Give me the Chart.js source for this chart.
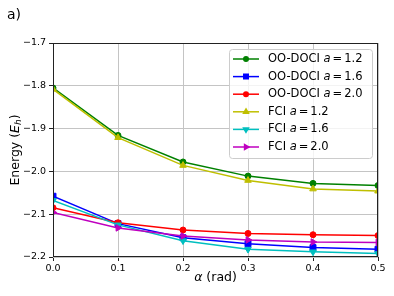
<!DOCTYPE html>
<html>
<head>
  <meta charset="UTF-8">
  <title>Energy vs alpha</title>
  <script src="https://cdn.jsdelivr.net/npm/chart.js@4/dist/chart.umd.min.js"></script>
  <style>
    html, body { margin: 0; padding: 0; background: #fff; }
    #wrap { width: 394px; height: 296px; }
  </style>
</head>
<body>
<div id="wrap"><canvas id="chart"></canvas></div>

<script>
  // data
  var alpha = ['0.0', '0.1', '0.2', '0.3', '0.4', '0.5'];
  var doci12 = [-1.805, -1.916, -1.978, -2.011, -2.028, -2.033];
  var doci16 = [-2.058, -2.122, -2.155, -2.169, -2.178, -2.182];
  var doci20 = [-2.085, -2.120, -2.137, -2.145, -2.148, -2.150];
  var fci12 = [-1.808, -1.921, -1.986, -2.021, -2.041, -2.046];
  var fci16 = [-2.068, -2.125, -2.162, -2.182, -2.188, -2.192];
  var fci20 = [-2.096, -2.132, -2.151, -2.160, -2.165, -2.166];
  var methods = ['OO-DOCI', 'OO-DOCI', 'OO-DOCI', 'FCI', 'FCI', 'FCI'];
  var aLabels = ['1.2', '1.6', '2.0', '1.2', '1.6', '2.0'];

  var FONT = '"DejaVu Sans", sans-serif';

  function series(i, data, color, style, rot, r) {
    return {
      label: methods[i] + ' a = ' + aLabels[i],
      data: data,
      borderColor: color,
      backgroundColor: color,
      borderWidth: 1.5,
      pointStyle: style,
      rotation: rot,
      pointRadius: r,
      pointBorderWidth: 1,
      pointHoverRadius: r,
      tension: 0,
      clip: 0,
      order: 6 - i
    };
  }

  // draws frame, legend, axis titles and the panel label
  var extras = {
    id: 'extras',
    afterDatasetsDraw: function (chart) {
      var ctx = chart.ctx, a = chart.chartArea;
      ctx.save();
      ctx.strokeStyle = '#222';
      ctx.lineWidth = 1;
      ctx.strokeRect(a.left + 0.5, a.top + 0.5, a.right - a.left - 1, a.bottom - a.top - 1);
      ctx.restore();
    },
    afterDraw: function (chart) {
      var ctx = chart.ctx, a = chart.chartArea;
      ctx.save();
      ctx.fillStyle = '#000';
      ctx.textBaseline = 'middle';

      // panel label
      ctx.font = '14px ' + FONT;
      ctx.textAlign = 'left';
      ctx.fillText('a)', 7, 15);

      // x title
      ctx.font = 'italic 12.5px ' + FONT;
      var w1 = ctx.measureText('α').width;
      ctx.font = '12.5px ' + FONT;
      var w2 = ctx.measureText(' (rad)').width;
      var cx = (a.left + a.right) / 2 - (w1 + w2) / 2;
      ctx.font = 'italic 12.5px ' + FONT;
      ctx.fillText('α', cx, 278);
      ctx.font = '12.5px ' + FONT;
      ctx.fillText(' (rad)', cx + w1, 278);

      // y title, rotated
      ctx.save();
      ctx.translate(16, (a.top + a.bottom) / 2);
      ctx.rotate(-Math.PI / 2);
      var parts = [
        ['Energy (', '12.5px ', 0],
        ['E', 'italic 12.5px ', 0],
        ['h', 'italic 9px ', 3],
        [')', '12.5px ', 0]
      ];
      var tot = 0;
      parts.forEach(function (p) { ctx.font = p[1] + FONT; tot += ctx.measureText(p[0]).width; });
      var x = -tot / 2;
      parts.forEach(function (p) {
        ctx.font = p[1] + FONT;
        ctx.fillText(p[0], x, p[2]);
        x += ctx.measureText(p[0]).width;
      });
      ctx.restore();

      // legend
      var lx = 229, ly = 49, lw = 143, lh = 109;
      ctx.beginPath();
      if (ctx.roundRect) ctx.roundRect(lx + 0.5, ly + 0.5, lw, lh, 3);
      else ctx.rect(lx + 0.5, ly + 0.5, lw, lh);
      ctx.fillStyle = 'rgba(255,255,255,0.8)';
      ctx.fill();
      ctx.strokeStyle = '#cccccc';
      ctx.lineWidth = 1;
      ctx.stroke();

      chart.data.datasets.forEach(function (ds, i) {
        var y = 59 + i * 17.6;
        ctx.strokeStyle = ds.borderColor;
        ctx.lineWidth = 1.5;
        ctx.beginPath();
        ctx.moveTo(233, y);
        ctx.lineTo(259, y);
        ctx.stroke();
        ctx.fillStyle = ds.backgroundColor;
        Chart.helpers.drawPoint(ctx, {
          pointStyle: ds.pointStyle, rotation: ds.rotation,
          radius: ds.pointRadius * 0.75, borderWidth: 1
        }, 246, y);

        ctx.fillStyle = '#000';
        var tx = 268;
        ctx.font = '11.5px ' + FONT;
        ctx.fillText(methods[i] + ' ', tx, y);
        tx += ctx.measureText(methods[i] + ' ').width;
        ctx.font = 'italic 11.5px ' + FONT;
        ctx.fillText('a', tx, y);
        tx += ctx.measureText('a').width + 2;
        ctx.font = '11.5px ' + FONT;
        ctx.fillText('=', tx, y);
        tx += ctx.measureText('=').width + 2;
        ctx.fillText(aLabels[i], tx, y);
      });
      ctx.restore();
    }
  };

  var ctx = document.getElementById('chart').getContext('2d');
  var chart = new Chart(ctx, {
    type: 'line',
    data: {
      labels: alpha,
      datasets: [
        series(0, doci12, '#008000', 'circle', 0, 3),
        series(1, doci16, '#0000ff', 'rect', 0, 4.2),
        series(2, doci20, '#ff0000', 'circle', 0, 3),
        series(3, fci12, '#bfbf00', 'triangle', 0, 3.8),
        series(4, fci16, '#00bfbf', 'triangle', 180, 3.8),
        series(5, fci20, '#bf00bf', 'triangle', 90, 3.8)
      ]
    },
    options: {
      responsive: true,
      maintainAspectRatio: false,
      animation: false,
      layout: { padding: { top: 43, right: 16, left: 0, bottom: 0 } },
      plugins: {
        legend: { display: false },
        tooltip: { enabled: false },
        title: { display: false }
      },
      scales: {
        x: {
          type: 'category',
          offset: false,
          grid: { color: '#c4c4c4', lineWidth: 1, tickColor: '#222', tickLength: 4, offset: false },
          border: { display: false },
          ticks: { color: '#000', font: { family: FONT, size: 9.5 }, padding: 2, maxRotation: 0 },
          afterFit: function (s) { s.height = 39; }
        },
        y: {
          min: -2.2,
          max: -1.7,
          grid: { color: '#c4c4c4', lineWidth: 1, tickColor: '#222', tickLength: 4 },
          border: { display: false },
          ticks: {
            stepSize: 0.1,
            color: '#000',
            font: { family: FONT, size: 9.5 },
            padding: 3,
            callback: function (v) { return v.toFixed(1).replace('-', '\u2212'); }
          },
          afterFit: function (s) { s.width = 53; }
        }
      }
    },
    plugins: [extras]
  });
</script>
</body>
</html>
